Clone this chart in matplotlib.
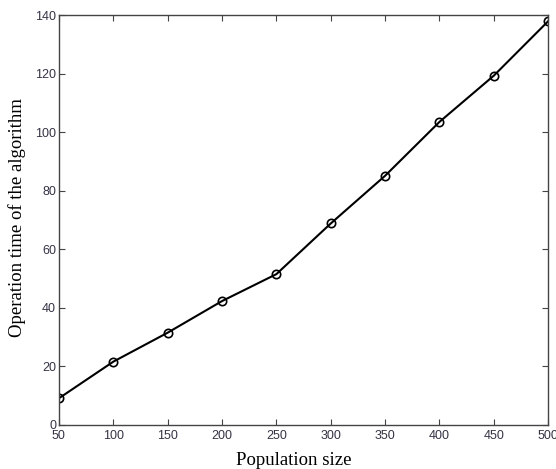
import matplotlib.pyplot as plt

pop_size = [50, 100, 150, 200, 250, 300, 350, 400, 450, 500]
op_time = [9.1, 21.6, 31.5, 42.3, 51.5, 68.8, 85.1, 103.5, 119.3, 137.9]

fig = plt.figure(figsize=(5.56, 4.69), dpi=100)
ax = fig.add_axes([0.106, 0.094, 0.880, 0.874])

ax.plot(pop_size, op_time, color='black', linewidth=1.5, marker='o',
        markersize=6, markerfacecolor='none', markeredgecolor='black', markeredgewidth=1.2)

ax.set_xlim(50, 500)
ax.set_ylim(0, 140)
ax.set_xticks(range(50, 501, 50))
ax.set_yticks(range(0, 141, 20))

for s in ax.spines.values():
    s.set_color('#444444')
    s.set_linewidth(1.0)
ax.tick_params(direction='in', top=True, right=True, length=4, color='#444444',
               labelsize=9, labelcolor='#333344')
ax.tick_params(axis='x', pad=4)
ax.tick_params(axis='y', pad=2)
for lbl in ax.get_xticklabels() + ax.get_yticklabels():
    lbl.set_family('Liberation Sans')

ax.set_xlabel('Population size', family='Liberation Serif', fontsize=13.5)
ax.set_ylabel('Operation time of the algorithm', family='Liberation Serif', fontsize=13.5)
ax.xaxis.set_label_coords(0.48, -0.065)
ax.yaxis.set_label_coords(-0.068, 0.505)

fig.savefig('out.png', dpi=100)
